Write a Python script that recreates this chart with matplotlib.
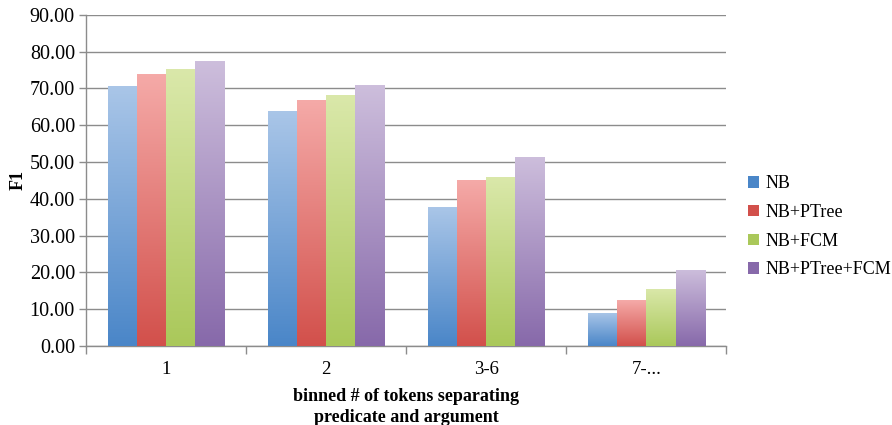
import numpy as np
import matplotlib
matplotlib.use("Agg")
import matplotlib.pyplot as plt
from matplotlib.colors import LinearSegmentedColormap
from matplotlib.patches import Patch

categories = ["1", "2", "3-6", "7-..."]
series = ["NB", "NB+PTree", "NB+FCM", "NB+PTree+FCM"]
nb        = [70.7, 63.9, 37.8, 9.0]
nb_ptree  = [73.9, 66.8, 45.1, 12.5]
nb_fcm    = [75.3, 68.2, 45.9, 15.5]
nb_all    = [77.4, 70.9, 51.4, 20.7]
values = [nb, nb_ptree, nb_fcm, nb_all]

# (top colour, bottom colour) for the gradient fill
colours = [("#aac6e8", "#4a86c8"),
           ("#f5aaa8", "#d2504b"),
           ("#dae8aa", "#aac85a"),
           ("#cdbedc", "#8769aa")]

plt.rcParams["font.family"] = ["Liberation Serif", "DejaVu Serif"]

fig = plt.figure(figsize=(8.92, 4.25), dpi=100)
ax = fig.add_axes([0.0964, 0.186, 0.718, 0.779])

x = np.arange(len(categories))
width = 0.182
grad = np.linspace(0, 1, 256).reshape(-1, 1)

for i, (vals, (top, bot)) in enumerate(zip(values, colours)):
    offs = (i - 1.5) * width
    bars = ax.bar(x + offs, vals, width, color="none", edgecolor="none", zorder=3)
    cmap = LinearSegmentedColormap.from_list(series[i], [bot, top])
    for b in bars:
        bx, by = b.get_x(), b.get_y()
        bw, bh = b.get_width(), b.get_height()
        im = ax.imshow(grad, cmap=cmap, origin="lower", aspect="auto",
                       extent=[bx, bx + bw, by, by + bh], zorder=3)
        im.set_clip_path(b)

ax.set_xlim(-0.5, len(categories) - 0.5)
ax.set_ylim(0, 90)
ax.set_yticks(np.arange(0, 91, 10))
ax.set_yticklabels([f"{v:.2f}" for v in np.arange(0, 91, 10)], fontsize=14.5)
ax.set_xticks(x)
ax.set_xticklabels(categories, fontsize=13.5)
ax.set_xticks(np.arange(-0.5, len(categories), 1), minor=True)
ax.tick_params(axis="x", which="major", length=0, pad=11)
ax.tick_params(axis="x", which="minor", length=6, color="#8c8c8c", width=1)
ax.tick_params(axis="y", length=5, color="#8c8c8c", width=1, pad=3)

ax.grid(axis="y", color="#8c8c8c", linewidth=1, zorder=0)
ax.set_axisbelow(True)
for s in ["top", "right"]:
    ax.spines[s].set_visible(False)
for s in ["left", "bottom"]:
    ax.spines[s].set_color("#8c8c8c")
    ax.spines[s].set_linewidth(1)

ax.set_ylabel("F1", fontsize=13, fontweight="bold")
ax.yaxis.set_label_coords(-0.092, 0.5)
ax.set_xlabel("binned # of tokens separating\npredicate and argument",
              fontsize=13, fontweight="bold", linespacing=1.25)
ax.xaxis.set_label_coords(0.5, -0.128)

handles = [Patch(facecolor=bot, edgecolor="none") for _, bot in colours]
ax.legend(handles, series, loc="center left", bbox_to_anchor=(1.009, 0.36),
          frameon=False, fontsize=13, handlelength=0.6, handleheight=0.6,
          handletextpad=0.35, labelspacing=0.65)

fig.savefig("out.png", dpi=100)
